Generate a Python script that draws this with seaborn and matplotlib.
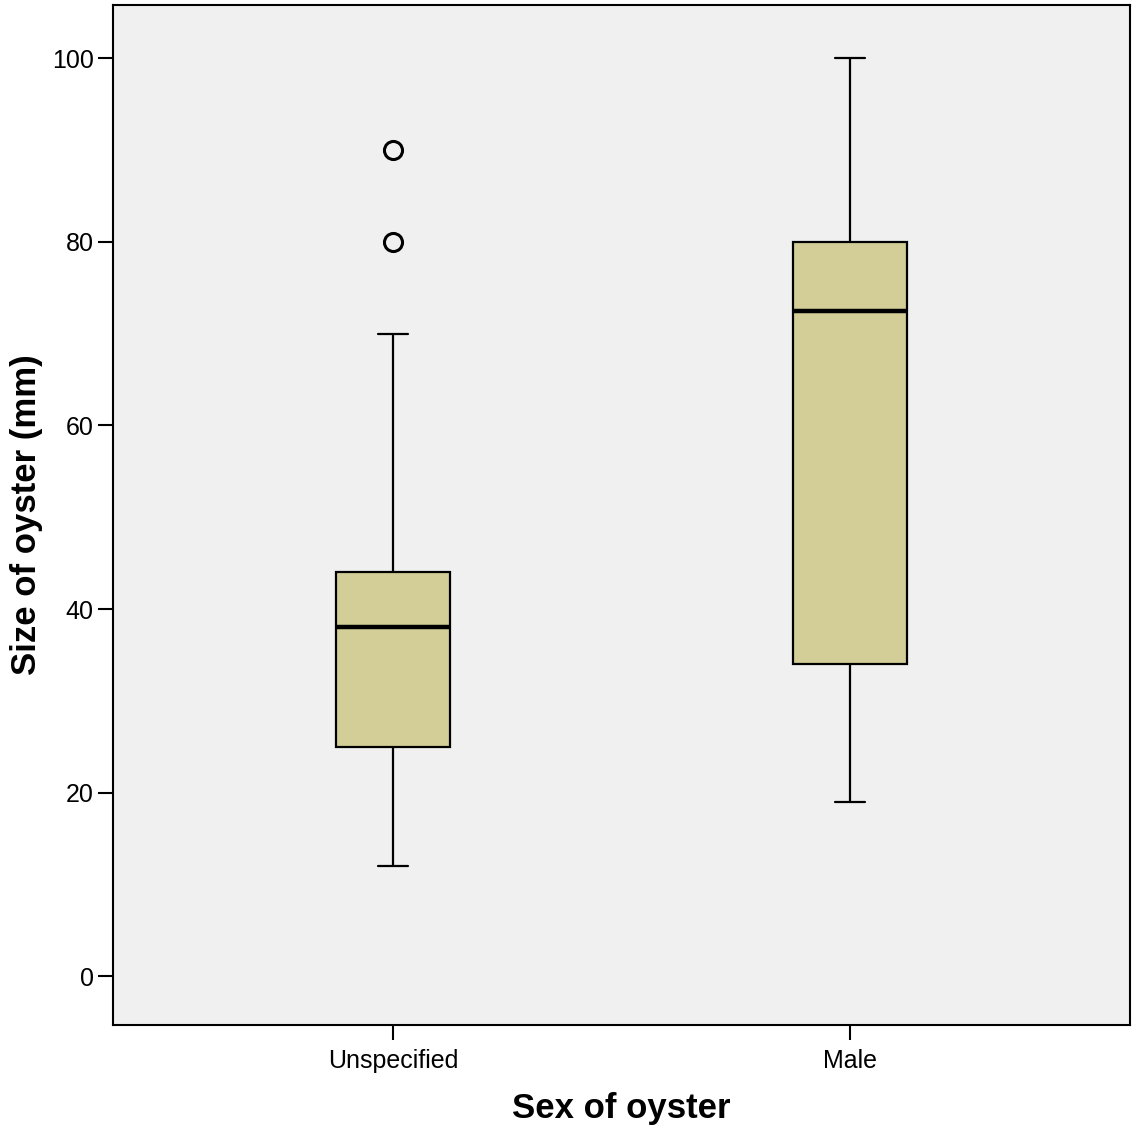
import numpy as np
import pandas as pd
import matplotlib
matplotlib.use("Agg")
import matplotlib.pyplot as plt
import seaborn as sns

# Oyster sizes by sex
categories = ["Unspecified", "Male"]
unspecified_sizes = [12, 25, 25, 25, 38, 38, 38, 44, 44, 44, 70, 80, 90]
male_sizes = [19, 34, 72.5, 80, 100]
y_ticks = [0, 20, 40, 60, 80, 100]

df = pd.DataFrame({
    "Sex of oyster": ["Unspecified"] * len(unspecified_sizes) + ["Male"] * len(male_sizes),
    "Size of oyster (mm)": unspecified_sizes + male_sizes,
})

sns.set_style("ticks", {
    "axes.facecolor": "#F0F0F0",
    "axes.edgecolor": "black",
    "axes.labelcolor": "black",
    "text.color": "black",
    "xtick.color": "black",
    "ytick.color": "black",
})
plt.rcParams["font.family"] = ["Liberation Sans", "DejaVu Sans"]

fig = plt.figure(figsize=(11.35, 11.29), dpi=100)
ax = fig.add_axes([113 / 1135, 1 - 1025 / 1129, (1130 - 113) / 1135, (1025 - 5) / 1129])

sns.boxplot(
    data=df, x="Sex of oyster", y="Size of oyster (mm)", order=categories,
    color="#D3CE97", saturation=1, width=0.25, linecolor="black", linewidth=1.6,
    fliersize=13, ax=ax,
    medianprops=dict(linewidth=3.2, color="black"),
    flierprops=dict(marker="o", markerfacecolor="none", markeredgecolor="black",
                    markeredgewidth=2.2),
)

# Shorter whisker caps
for cont in ax.containers:
    for cap in getattr(cont, "caps", []):
        xd = np.asarray(cap.get_xdata(), dtype=float)
        c = xd.mean()
        cap.set_xdata([c - 0.032, c + 0.032])

ax.set_xlim(-0.613, 1.613)
ax.set_ylim(-5.3, 105.8)
ax.set_yticks(y_ticks)
ax.set_yticklabels([str(v) for v in y_ticks])

for side in ["left", "right", "top", "bottom"]:
    ax.spines[side].set_visible(True)
    ax.spines[side].set_linewidth(1.5)
    ax.spines[side].set_color("black")

ax.tick_params(axis="both", length=11, width=1.5, labelsize=18, direction="out",
               labelcolor="black")
ax.tick_params(axis="y", pad=3)
ax.tick_params(axis="x", pad=6)

ax.set_xlabel("Sex of oyster", fontsize=25, fontweight="bold", labelpad=14, color="black")
ax.set_ylabel("Size of oyster (mm)", fontsize=25, fontweight="bold", labelpad=6, color="black")

fig.savefig("out.png", dpi=100)
